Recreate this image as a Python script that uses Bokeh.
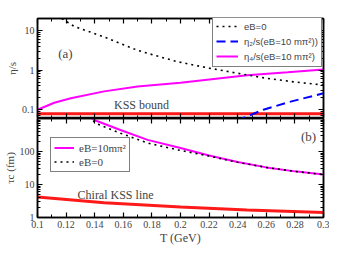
from bokeh.plotting import figure
from bokeh.models import (Range1d, FixedTicker, SingleIntervalTicker, LinearAxis, LogAxis,
                          CustomJSTickFormatter, Legend, LegendItem, Label, Spacer)
from bokeh.layouts import column
from bokeh.embed import file_html
from bokeh.resources import INLINE

# ---------------- data: panel (a) ----------------
T_eta0 = [0.117, 0.1257, 0.137, 0.1467, 0.158, 0.17, 0.1816, 0.198, 0.22, 0.24, 0.26, 0.28, 0.3]
eta0 = [20.0, 12.6, 9.1, 6.8, 4.65, 3.16, 2.37, 1.62, 1.12, 0.83, 0.62, 0.5, 0.42]

T_eta2 = [0.24, 0.243, 0.258, 0.277, 0.3]
eta2 = [0.05, 0.06, 0.1, 0.16, 0.26]

T_eta4 = [0.1, 0.1117, 0.1233, 0.1466, 0.17, 0.2, 0.2466, 0.275, 0.3]
eta4 = [0.1, 0.15, 0.195, 0.29, 0.385, 0.48, 0.74, 0.88, 1.04]

T_kss = [0.1, 0.3]
kss = [0.0796, 0.0796]

# ---------------- data: panel (b) ----------------
T_tauB = [0.138, 0.1396, 0.158, 0.177, 0.2, 0.22, 0.24, 0.26, 0.28, 0.3]
tauB = [1000, 900, 447, 225, 128, 76, 48, 33, 25, 20]

T_tau0 = [0.139, 0.1408, 0.158, 0.177, 0.198, 0.22, 0.24, 0.26, 0.28, 0.3]
tau0 = [850, 710, 360, 180, 112, 73, 47, 33, 25, 20]

T_chi = [0.1, 0.1466, 0.2, 0.2466, 0.3]
tau_chi = [4.15, 2.82, 2.08, 1.69, 1.41]

SERIF = "Liberation Serif"
SANS = "Liberation Sans"
MAGENTA = "#ff00ff"
RED = "#ff1a1a"
BLUE = "#0000ff"


def minor_log(lo_dec, hi_dec):
    out = []
    for d in range(lo_dec, hi_dec + 1):
        for k in range(2, 10):
            out.append(k * 10.0 ** d)
    return out


def style_hidden_axis(ax):
    ax.formatter = CustomJSTickFormatter(code="return '';")
    ax.major_label_text_font_size = "1px"
    ax.major_label_standoff = 0
    ax.major_tick_in = 5
    ax.major_tick_out = 0
    ax.minor_tick_in = 3
    ax.minor_tick_out = 0
    ax.axis_line_width = 1.5
    ax.major_tick_line_width = 1.2


def style_main_axis(ax):
    ax.formatter = CustomJSTickFormatter(code="return String(+tick.toFixed(2));")
    ax.major_label_text_font = SERIF
    ax.major_label_text_font_size = "10px"
    ax.major_label_standoff = 3
    ax.major_tick_in = 5
    ax.major_tick_out = 0
    ax.minor_tick_in = 3
    ax.minor_tick_out = 0
    ax.axis_line_width = 1.5
    ax.major_tick_line_width = 1.2
    ax.axis_label_text_font = SERIF
    ax.axis_label_text_font_style = "normal"
    ax.axis_label_text_font_size = "11px"
    ax.axis_label_standoff = 1


def make_x_ticker():
    return SingleIntervalTicker(interval=0.02, num_minor_ticks=2)


# ---------------- panel (a) ----------------
p1 = figure(frame_width=286, frame_height=100, y_axis_type="log",
            x_range=Range1d(0.1, 0.3), y_range=Range1d(0.06, 20),
            output_backend="svg", toolbar_location=None,
            min_border_left=29, min_border_right=6, min_border_top=11, min_border_bottom=0)
p1.grid.visible = False
p1.outline_line_color = "black"
p1.outline_line_width = 1.5

p1.xaxis.ticker = make_x_ticker()
style_hidden_axis(p1.xaxis[0])
p1.yaxis.ticker = FixedTicker(ticks=[0.1, 1, 10], minor_ticks=minor_log(-2, 1))
style_main_axis(p1.yaxis[0])
p1.yaxis.axis_label = "η/s"

ax_top1 = LinearAxis(ticker=make_x_ticker())
style_hidden_axis(ax_top1)
p1.add_layout(ax_top1, "above")
ax_r1 = LogAxis(ticker=FixedTicker(ticks=[0.1, 1, 10], minor_ticks=minor_log(-2, 1)))
style_hidden_axis(ax_r1)
p1.add_layout(ax_r1, "right")

p1.line(T_kss, kss, line_color=RED, line_width=3)
r_eta4 = p1.line(T_eta4, eta4, line_color=MAGENTA, line_width=2)
r_eta2 = p1.line(T_eta2, eta2, line_color=BLUE, line_width=2, line_dash="9 5")
r_eta0 = p1.line(T_eta0, eta0, line_color="black", line_width=1.6, line_dash="2 4")

leg1 = Legend(items=[LegendItem(label="eB=0", renderers=[r_eta0]),
                     LegendItem(label="η₂/s(eB=10 mπ²))", renderers=[r_eta2]),
                     LegendItem(label="η₄/s(eB=10 mπ²)", renderers=[r_eta4])],
              location=(175, 51), orientation="vertical",
              label_text_font=SANS, label_text_font_size="9.5px",
              padding=3, spacing=1, margin=0, label_height=14, glyph_height=14,
              glyph_width=22, label_standoff=6,
              border_line_color="black", border_line_width=1.5,
              background_fill_alpha=1.0)
p1.add_layout(leg1, "center")

p1.add_layout(Label(x=0.1195, y=2.6, text="(a)", text_font=SERIF, text_font_size="13px",
                    text_align="center", text_baseline="middle"))
p1.add_layout(Label(x=0.1535, y=0.135, text="KSS bound", text_font=SERIF, text_font_size="12px",
                    text_align="left", text_baseline="middle"))

# ---------------- panel (b) ----------------
p2 = figure(frame_width=286, frame_height=99, y_axis_type="log",
            x_range=p1.x_range, y_range=Range1d(1, 1000),
            output_backend="svg", toolbar_location=None,
            min_border_left=29, min_border_right=6, min_border_top=0, min_border_bottom=0)
p2.grid.visible = False
p2.outline_line_color = "black"
p2.outline_line_width = 1.5

p2.xaxis.ticker = make_x_ticker()
style_main_axis(p2.xaxis[0])
p2.xaxis.axis_label = "T (GeV)"
p2.xaxis.axis_label_text_font_size = "12px"
p2.xaxis.axis_label_standoff = 0
p2.yaxis.ticker = FixedTicker(ticks=[1, 10, 100], minor_ticks=minor_log(0, 2))
style_main_axis(p2.yaxis[0])
p2.yaxis.axis_label = "τc (fm)"

ax_top2 = LinearAxis(ticker=make_x_ticker())
style_hidden_axis(ax_top2)
p2.add_layout(ax_top2, "above")
ax_r2 = LogAxis(ticker=FixedTicker(ticks=[1, 10, 100], minor_ticks=minor_log(0, 2)))
style_hidden_axis(ax_r2)
p2.add_layout(ax_r2, "right")

p2.line(T_chi, tau_chi, line_color=RED, line_width=3)
r_tauB = p2.line(T_tauB, tauB, line_color=MAGENTA, line_width=2)
r_tau0 = p2.line(T_tau0, tau0, line_color="black", line_width=1.6, line_dash="2 4")

leg2 = Legend(items=[LegendItem(label="eB=10mπ²", renderers=[r_tauB]),
                     LegendItem(label="eB=0", renderers=[r_tau0])],
              location=(13, 45), orientation="vertical",
              label_text_font=SERIF, label_text_font_size="11px",
              padding=3, spacing=1, margin=0, label_height=13, glyph_height=13,
              glyph_width=20, label_standoff=5,
              border_line_color="black", border_line_width=1.5,
              background_fill_alpha=1.0)
p2.add_layout(leg2, "center")

p2.add_layout(Label(x=0.2895, y=282, text="(b)", text_font=SERIF, text_font_size="13px",
                    text_align="center", text_baseline="middle"))
p2.add_layout(Label(x=0.1280, y=4.84, text="Chiral KSS line", text_font=SERIF, text_font_size="12px",
                    text_align="left", text_baseline="middle"))

layout = column(Spacer(height=7), p1, p2, spacing=0)

open("out.html", "w").write(file_html(layout, INLINE))
